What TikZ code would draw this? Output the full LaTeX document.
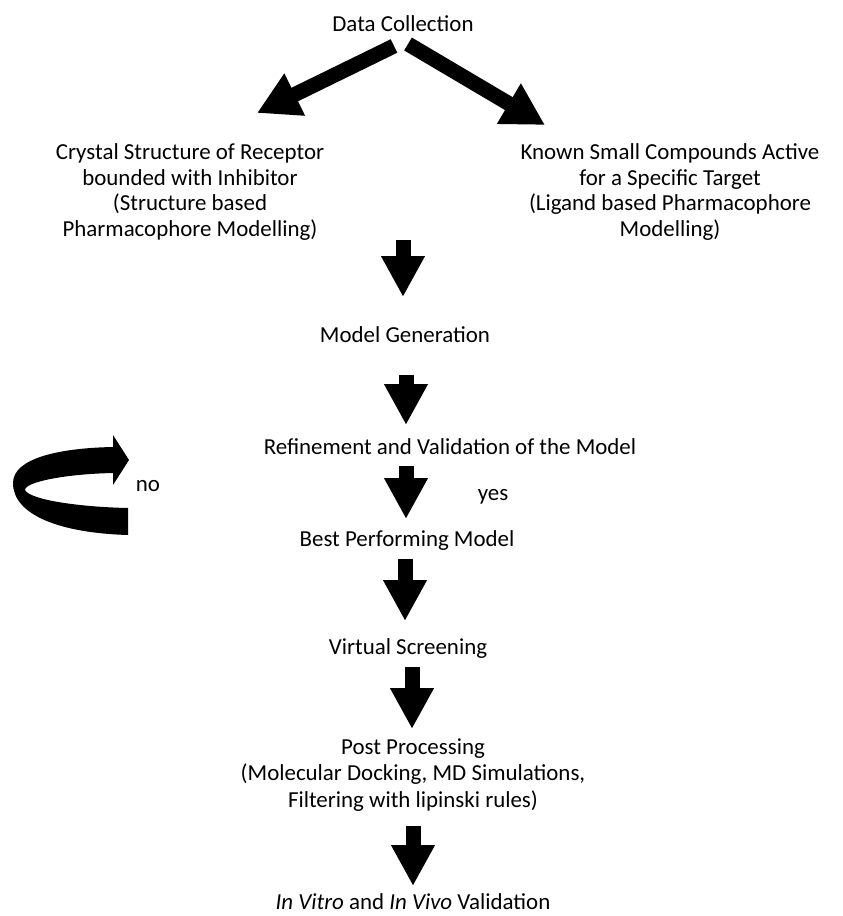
\documentclass[tikz,border=0pt]{standalone}
\usepackage{fontspec}
\setmainfont{Carlito}
\usetikzlibrary{arrows.meta}
\tikzset{
  txt/.style={inner sep=0pt, align=center, font=\fontsize{23}{26}\selectfont},
  blockarrow/.style={line width=15bp, -{Triangle[length=41bp,width=41bp]}},
}
\begin{document}
\begin{tikzpicture}[x=1bp,y=-1bp]
\useasboundingbox (0,0) rectangle (843,916);
\node[txt] (dc) at (403,24) {Data Collection};
\node[txt] (sb) at (190,192) {Crystal Structure of Receptor\\bounded with Inhibitor\\(Structure based\\Pharmacophore Modelling)};
\node[txt] (lb) at (670,192) {Known Small Compounds Active\\for a Specific Target\\(Ligand based Pharmacophore\\Modelling)};
\node[txt] (mg) at (405,335) {Model Generation};
\node[txt] (rv) at (450,447) {Refinement and Validation of the Model};
\node[txt] (no) at (148,486) {no};
\node[txt] (yes) at (493,497) {yes};
\node[txt] (bp) at (407,541) {Best Performing Model};
\node[txt] (vs) at (408,649) {Virtual Screening};
\node[txt, font=\fontsize{23}{27}\selectfont] (pp) at (413,775) {Post Processing\\(Molecular Docking, MD Simulations,\\Filtering with lipinski rules)};
\node[txt] (iv) at (413,902) {\textit{In Vitro} and \textit{In Vivo} Validation};
% arrow end points
\coordinate (a1s) at (394,46);  \coordinate (a1e) at (257,113);
\coordinate (a2s) at (408,44);  \coordinate (a2e) at (545,125);
\coordinate (a3s) at (403,240); \coordinate (a3e) at (403,297);
\coordinate (a4s) at (406,375); \coordinate (a4e) at (406,425);
\coordinate (a5s) at (406,466); \coordinate (a5e) at (406,519);
\coordinate (a6s) at (405,559); \coordinate (a6e) at (405,621);
\coordinate (a7s) at (412,667); \coordinate (a7e) at (412,729);
\coordinate (a8s) at (413,826); \coordinate (a8e) at (413,886);
\draw[blockarrow, -{Triangle[length=42bp,width=44bp]}] (a1s) -- (a1e);
\draw[blockarrow, -{Triangle[length=42bp,width=44bp]}] (a2s) -- (a2e);
\foreach \i in {3,...,8} \draw[blockarrow] (a\i s) -- (a\i e);
% curved loop arrow
\fill (128,535) .. controls (60,533) and (13,515) .. (13,483)
  .. controls (13,458) and (60,448) .. (113,447)
  -- (113,435) -- (129,460) -- (113,485) -- (113,473)
  .. controls (65,474) and (25,482) .. (25,490)
  .. controls (30,500) and (80,507) .. (128,508) -- cycle;
\end{tikzpicture}
\end{document}
